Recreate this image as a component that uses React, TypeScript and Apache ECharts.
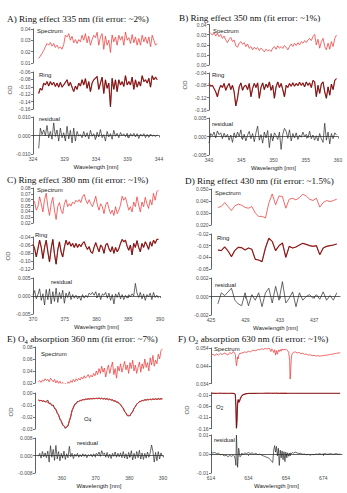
import React, { useEffect, useRef } from 'react';
import * as echarts from 'echarts';

// ---------------- DATA ----------------
// Panel A: Ring effect 335 nm
const A_X_TICKS = [324, 329, 334, 339, 344];
const A_SPEC_TICKS = [0.01, 0.02, 0.03, 0.04];
const A_RING_TICKS = [-0.16, -0.14, -0.12, -0.1, -0.08, -0.06];
const A_RES_TICKS = [-0.01, 0, 0.01];
const A_WL_START = 324.9, A_WL_STEP = 0.265;
const A_SPECTRUM = [0.0140, 0.0161, 0.0185, 0.0210, 0.0243, 0.0272, 0.0257, 0.0281, 0.0249, 0.0272,
  0.0237, 0.0257, 0.0228, 0.0243, 0.0222, 0.0263, 0.0345, 0.0330, 0.0359, 0.0301,
  0.0336, 0.0278, 0.0307, 0.0272, 0.0307, 0.0286, 0.0345, 0.0301, 0.0359, 0.0278,
  0.0336, 0.0257, 0.0307, 0.0345, 0.0324, 0.0371, 0.0257, 0.0330, 0.0359, 0.0220,
  0.0336, 0.0257, 0.0301, 0.0193, 0.0348, 0.0286, 0.0330, 0.0257, 0.0345, 0.0301,
  0.0336, 0.0257, 0.0374, 0.0301, 0.0324, 0.0272, 0.0351, 0.0278, 0.0330, 0.0257,
  0.0316, 0.0257, 0.0345, 0.0286, 0.0330, 0.0272, 0.0330, 0.0243, 0.0345, 0.0301,
  0.0257, 0.0272];
const A_RING = [-0.118, -0.104, -0.109, -0.090, -0.095, -0.086, -0.098, -0.086, -0.095, -0.088,
  -0.099, -0.090, -0.101, -0.088, -0.101, -0.095, -0.088, -0.081, -0.098, -0.088,
  -0.101, -0.113, -0.098, -0.107, -0.090, -0.098, -0.081, -0.095, -0.078, -0.104,
  -0.086, -0.113, -0.090, -0.081, -0.077, -0.072, -0.107, -0.090, -0.074, -0.118,
  -0.081, -0.104, -0.090, -0.154, -0.077, -0.107, -0.081, -0.113, -0.081, -0.095,
  -0.086, -0.099, -0.070, -0.095, -0.086, -0.095, -0.074, -0.107, -0.081, -0.101,
  -0.086, -0.098, -0.070, -0.086, -0.081, -0.090, -0.077, -0.101, -0.070, -0.081,
  -0.074, -0.081];
const A_RESIDUAL = [-0.0070, 0.0040, 0.0005, 0.0030, -0.0002, 0.0054, -0.0012, 0.0022, -0.0020, 0.0068,
  -0.0005, 0.0030, -0.0030, 0.0040, -0.0012, 0.0015, -0.0030, 0.0050, -0.0018, 0.0028,
  -0.0040, 0.0040, -0.0030, 0.0022, -0.0003, 0.0005, -0.0012, 0.0022, -0.0008, 0.0015,
  -0.0018, 0.0028, -0.0004, 0.0010, -0.0022, 0.0018, -0.0008, 0.0032, -0.0012, 0.0005,
  -0.0030, 0.0022, -0.0008, 0.0010, -0.0020, 0.0028, -0.0004, 0.0012, -0.0012, 0.0016,
  0.0000, 0.0009, -0.0006, 0.0012, -0.0014, 0.0010, -0.0004, 0.0012, -0.0008, 0.0010,
  -0.0016, 0.0008, -0.0004, 0.0010, -0.0012, 0.0006, -0.0010, 0.0008, -0.0004, 0.0002,
  -0.0006, 0.0004];

// Panel B: Ring effect 350 nm
const B_X_TICKS = [340, 345, 350, 355, 360];
const B_SPEC_TICKS = [0, 0.01, 0.02, 0.03, 0.04];
const B_RING_TICKS = [-0.16, -0.12, -0.08, -0.04];
const B_RES_TICKS = [-0.005, 0, 0.005];
const B_WL_START = 340.0, B_WL_STEP = 0.26;
const B_SPECTRUM = [0.0329, 0.0312, 0.0296, 0.0320, 0.0286, 0.0312, 0.0280, 0.0302, 0.0263, 0.0286,
  0.0247, 0.0221, 0.0254, 0.0273, 0.0231, 0.0247, 0.0189, 0.0176, 0.0215, 0.0231,
  0.0205, 0.0221, 0.0182, 0.0208, 0.0166, 0.0182, 0.0150, 0.0176, 0.0156, 0.0172,
  0.0143, 0.0166, 0.0150, 0.0130, 0.0156, 0.0140, 0.0150, 0.0133, 0.0166, 0.0182,
  0.0156, 0.0189, 0.0166, 0.0182, 0.0163, 0.0192, 0.0176, 0.0150, 0.0182, 0.0208,
  0.0182, 0.0215, 0.0192, 0.0221, 0.0198, 0.0231, 0.0215, 0.0241, 0.0221, 0.0247,
  0.0263, 0.0241, 0.0280, 0.0302, 0.0198, 0.0254, 0.0166, 0.0231, 0.0263, 0.0182,
  0.0150, 0.0215, 0.0156, 0.0231, 0.0182, 0.0263, 0.0296];
const B_RING = [-0.074, -0.083, -0.080, -0.090, -0.101, -0.117, -0.094, -0.080, -0.087, -0.074,
  -0.096, -0.083, -0.074, -0.094, -0.080, -0.101, -0.147, -0.122, -0.085, -0.072,
  -0.096, -0.083, -0.080, -0.094, -0.074, -0.117, -0.090, -0.074, -0.087, -0.072,
  -0.122, -0.087, -0.072, -0.094, -0.076, -0.087, -0.069, -0.096, -0.080, -0.122,
  -0.085, -0.069, -0.087, -0.074, -0.094, -0.117, -0.080, -0.087, -0.074, -0.083,
  -0.072, -0.083, -0.074, -0.081, -0.070, -0.080, -0.072, -0.085, -0.069, -0.080,
  -0.072, -0.087, -0.064, -0.069, -0.117, -0.080, -0.106, -0.076, -0.069, -0.101,
  -0.122, -0.085, -0.112, -0.076, -0.094, -0.064, -0.058];
const B_RESIDUAL = [-0.0018, 0.0008, 0.0002, 0.0012, -0.0004, 0.0015, 0.0005, 0.0010, -0.0006, 0.0009,
  -0.0002, 0.0006, -0.0010, 0.0004, -0.0016, 0.0010, -0.0004, 0.0012, 0.0000, 0.0018,
  -0.0008, 0.0006, -0.0012, 0.0004, 0.0014, -0.0006, 0.0008, -0.0014, 0.0010, 0.0028,
  -0.0010, 0.0005, -0.0018, 0.0012, -0.0004, 0.0016, -0.0030, 0.0008, -0.0012, 0.0010,
  0.0002, -0.0008, 0.0012, -0.0035, 0.0006, 0.0022, 0.0014, -0.0005, 0.0018, -0.0012,
  0.0008, -0.0004, 0.0010, -0.0008, 0.0004, -0.0002, 0.0012, 0.0000, 0.0006, -0.0004,
  0.0014, -0.0006, 0.0004, -0.0010, 0.0002, -0.0012, 0.0008, -0.0006, -0.0016, 0.0036,
  -0.0010, 0.0012, -0.0020, 0.0008, -0.0006, 0.0010, 0.0004];

// Panel C: Ring effect 380 nm
const C_X_TICKS = [370, 375, 380, 385, 390];
const C_SPEC_TICKS = [0.02, 0.03, 0.04, 0.05, 0.06, 0.07, 0.08];
const C_RING_TICKS = [-0.12, -0.1, -0.08, -0.06, -0.04];
const C_RES_TICKS = [-0.005, 0, 0.005];
const C_WL_START = 370.0, C_WL_STEP = 0.26;
const C_SPECTRUM = [0.060, 0.056, 0.042, 0.048, 0.065, 0.053, 0.039, 0.060, 0.071, 0.048,
  0.033, 0.053, 0.064, 0.042, 0.026, 0.048, 0.055, 0.042, 0.036, 0.053,
  0.060, 0.048, 0.053, 0.049, 0.056, 0.053, 0.059, 0.056, 0.060, 0.055,
  0.065, 0.069, 0.059, 0.053, 0.060, 0.053, 0.048, 0.056, 0.066, 0.051,
  0.042, 0.053, 0.048, 0.036, 0.051, 0.056, 0.045, 0.036, 0.042, 0.033,
  0.048, 0.036, 0.042, 0.051, 0.066, 0.059, 0.064, 0.053, 0.042, 0.048,
  0.039, 0.056, 0.048, 0.065, 0.051, 0.039, 0.056, 0.048, 0.064, 0.053,
  0.045, 0.060, 0.051, 0.071, 0.059, 0.074, 0.076];
const C_RING = [-0.058, -0.069, -0.090, -0.069, -0.048, -0.066, -0.094, -0.066, -0.048, -0.077,
  -0.102, -0.069, -0.046, -0.082, -0.108, -0.073, -0.052, -0.077, -0.090, -0.066,
  -0.048, -0.060, -0.052, -0.063, -0.056, -0.066, -0.056, -0.066, -0.058, -0.064,
  -0.056, -0.052, -0.063, -0.071, -0.064, -0.077, -0.081, -0.066, -0.054, -0.066,
  -0.077, -0.060, -0.066, -0.081, -0.060, -0.056, -0.069, -0.077, -0.064, -0.081,
  -0.066, -0.077, -0.069, -0.056, -0.046, -0.052, -0.048, -0.063, -0.073, -0.060,
  -0.085, -0.056, -0.066, -0.049, -0.066, -0.077, -0.056, -0.066, -0.052, -0.060,
  -0.071, -0.052, -0.063, -0.048, -0.056, -0.046, -0.046];
const C_RESIDUAL = [0.0002, 0.0015, -0.0008, 0.0004, 0.0020, -0.0012, 0.0006, -0.0025, 0.0018, -0.0010,
  0.0020, -0.0022, 0.0012, -0.0015, 0.0022, -0.0018, 0.0010, -0.0008, 0.0016, -0.0020,
  0.0008, -0.0004, 0.0012, -0.0010, 0.0004, -0.0006, 0.0002, -0.0008, 0.0000, -0.0012,
  0.0004, -0.0006, 0.0002, -0.0004, 0.0008, 0.0004, 0.0010, 0.0002, 0.0012, -0.0004,
  0.0008, -0.0010, 0.0006, 0.0002, 0.0010, -0.0006, 0.0008, -0.0012, 0.0004, -0.0022,
  0.0006, -0.0004, 0.0010, -0.0008, 0.0004, -0.0010, 0.0002, -0.0006, 0.0004, -0.0002,
  0.0006, 0.0000, 0.0035, 0.0008, -0.0004, 0.0010, -0.0008, 0.0006, -0.0012, 0.0004,
  -0.0002, 0.0008, -0.0010, 0.0010, -0.0004, 0.0002, -0.0006];

// Panel D: Ring effect 430 nm
const D_X_TICKS = [425, 429, 433, 437];
const D_SPEC_TICKS = [0.02, 0.03, 0.04, 0.05];
const D_RING_TICKS = [-0.05, -0.04, -0.03, -0.02];
const D_RES_TICKS = [-0.002, 0, 0.002];
const D_WL_START = 425.8, D_WL_STEP = 0.395;
const D_SPECTRUM = [0.0346, 0.0354, 0.0387, 0.0354, 0.0321, 0.0360, 0.0374, 0.0365, 0.0346, 0.0340,
  0.0354, 0.0300, 0.0272, 0.0272, 0.0258, 0.0382, 0.0459, 0.0368, 0.0442, 0.0437,
  0.0340, 0.0415, 0.0423, 0.0409, 0.0428, 0.0456, 0.0442, 0.0415, 0.0404, 0.0423,
  0.0349, 0.0387, 0.0404, 0.0395, 0.0404, 0.0415];
const D_RING = [-0.0337, -0.0343, -0.0311, -0.0346, -0.0394, -0.0340, -0.0314, -0.0317, -0.0337, -0.0320,
  -0.0331, -0.0417, -0.0423, -0.0437, -0.0320, -0.0237, -0.0263, -0.0343, -0.0300, -0.0277,
  -0.0400, -0.0306, -0.0320, -0.0311, -0.0294, -0.0280, -0.0289, -0.0300, -0.0306, -0.0300,
  -0.0377, -0.0320, -0.0306, -0.0300, -0.0294, -0.0286];
const D_RESIDUAL = [-0.0008, 0.0004, 0.0001, 0.0005, 0.0009, -0.0004, -0.0008, -0.0010, 0.0004, -0.0010,
  0.0002, -0.0004, 0.0004, -0.0011, 0.0004, 0.0009, -0.0007, 0.0011, -0.0004, 0.0016,
  -0.0007, -0.0002, 0.0005, -0.0011, 0.0004, -0.0004, 0.0000, 0.0002, -0.0002, 0.0002,
  -0.0003, 0.0005, -0.0004, 0.0001, -0.0004, 0.0004];

// Panel E: O4 absorption 360 nm
const E_X_TICKS = [360, 370, 380, 390];
const E_SPEC_TICKS = [0.02, 0.04, 0.06, 0.08];
const E_O4_TICKS = [-0.03, -0.02, -0.01, 0];
const E_RES_TICKS = [-0.008, 0, 0.008];
const E_WL_START = 353.0, E_WL_STEP = 0.4;
const E_SPECTRUM = [0.022, 0.024, 0.021, 0.025, 0.023, 0.027, 0.024, 0.026, 0.022, 0.028,
  0.025, 0.022, 0.026, 0.020, 0.024, 0.019, 0.023, 0.018, 0.021, 0.017,
  0.020, 0.016, 0.022, 0.019, 0.024, 0.021, 0.026, 0.022, 0.027, 0.024,
  0.028, 0.025, 0.030, 0.027, 0.032, 0.028, 0.031, 0.034, 0.029, 0.033,
  0.030, 0.036, 0.032, 0.040, 0.034, 0.044, 0.036, 0.048, 0.038, 0.045,
  0.030, 0.042, 0.050, 0.036, 0.046, 0.055, 0.034, 0.044, 0.028, 0.048,
  0.040, 0.052, 0.038, 0.047, 0.056, 0.042, 0.050, 0.036, 0.054, 0.044,
  0.058, 0.040, 0.050, 0.036, 0.046, 0.055, 0.038, 0.052, 0.044, 0.060,
  0.046, 0.054, 0.040, 0.062, 0.050, 0.066, 0.048, 0.058, 0.052, 0.068,
  0.060, 0.074, 0.077];
const E_O4_FIT = [-0.0060, -0.0062, -0.0064, -0.0066, -0.0068, -0.0071, -0.0074, -0.0078, -0.0083, -0.0090,
  -0.0098, -0.0108, -0.0122, -0.0140, -0.0162, -0.0187, -0.0213, -0.0238, -0.0260, -0.0277,
  -0.0287, -0.0287, -0.0270, -0.0236, -0.0192, -0.0150, -0.0118, -0.0098, -0.0085, -0.0076,
  -0.0069, -0.0064, -0.0060, -0.0057, -0.0055, -0.0053, -0.0051, -0.0050, -0.0049, -0.0048,
  -0.0047, -0.0047, -0.0046, -0.0046, -0.0045, -0.0045, -0.0045, -0.0046, -0.0047, -0.0048,
  -0.0049, -0.0050, -0.0052, -0.0054, -0.0057, -0.0060, -0.0064, -0.0068, -0.0073, -0.0079,
  -0.0085, -0.0097, -0.0112, -0.0130, -0.0150, -0.0170, -0.0185, -0.0191, -0.0186, -0.0172,
  -0.0152, -0.0130, -0.0110, -0.0094, -0.0082, -0.0074, -0.0068, -0.0064, -0.0061, -0.0059,
  -0.0057, -0.0056, -0.0055, -0.0054, -0.0053, -0.0052, -0.0052, -0.0051, -0.0051, -0.0050,
  -0.0050, -0.0050, -0.0049];
const E_O4_MEASURED = [-0.0058, -0.0066, -0.0060, -0.0070, -0.0064, -0.0075, -0.0068, -0.0060, -0.0090, -0.0084,
  -0.0105, -0.0100, -0.0130, -0.0134, -0.0170, -0.0180, -0.0220, -0.0232, -0.0268, -0.0272,
  -0.0295, -0.0280, -0.0276, -0.0228, -0.0200, -0.0142, -0.0125, -0.0092, -0.0090, -0.0070,
  -0.0072, -0.0060, -0.0064, -0.0053, -0.0058, -0.0050, -0.0054, -0.0047, -0.0052, -0.0045,
  -0.0050, -0.0044, -0.0049, -0.0043, -0.0048, -0.0040, -0.0050, -0.0042, -0.0052, -0.0044,
  -0.0053, -0.0046, -0.0057, -0.0050, -0.0060, -0.0055, -0.0070, -0.0062, -0.0078, -0.0074,
  -0.0090, -0.0093, -0.0118, -0.0125, -0.0156, -0.0165, -0.0190, -0.0186, -0.0192, -0.0166,
  -0.0158, -0.0125, -0.0115, -0.0090, -0.0086, -0.0070, -0.0072, -0.0060, -0.0065, -0.0055,
  -0.0060, -0.0052, -0.0058, -0.0050, -0.0057, -0.0048, -0.0055, -0.0047, -0.0054, -0.0046,
  -0.0053, -0.0046, -0.0050];
const E_RESIDUAL = [-0.0004, 0.0010, -0.0012, 0.0018, -0.0006, 0.0012, -0.0010, 0.0020, -0.0030, 0.0045,
  -0.0008, 0.0028, -0.0022, 0.0046, -0.0015, 0.0018, -0.0024, 0.0010, -0.0012, 0.0020,
  -0.0018, 0.0008, -0.0010, 0.0042, -0.0006, 0.0010, -0.0014, 0.0006, -0.0004, 0.0010,
  -0.0008, 0.0004, -0.0006, 0.0008, -0.0004, 0.0006, -0.0010, 0.0004, -0.0002, 0.0006,
  -0.0006, 0.0008, -0.0004, 0.0010, 0.0002, 0.0016, -0.0004, 0.0022, 0.0004, 0.0012,
  -0.0008, 0.0014, -0.0010, 0.0006, -0.0014, 0.0010, -0.0004, 0.0016, -0.0008, 0.0010,
  -0.0006, 0.0012, -0.0010, 0.0018, -0.0012, 0.0008, -0.0016, 0.0014, -0.0008, 0.0022,
  -0.0020, 0.0010, -0.0014, 0.0018, -0.0010, 0.0024, -0.0016, 0.0012, -0.0018, 0.0010,
  -0.0012, 0.0016, -0.0008, 0.0012, 0.0048, 0.0020, -0.0030, 0.0014, -0.0024, 0.0018,
  -0.0016, 0.0012, -0.0004];

// Panel F: O2 absorption 630 nm
const F_X_TICKS = [614, 634, 654, 674];
const F_SPEC_TICKS = [0.034, 0.044, 0.054];
const F_O2_TICKS = [-0.16, -0.11, -0.06, -0.01];
const F_RES_TICKS = [-0.01, 0, 0.01];
const F_WAVELENGTH = [614, 615, 616, 617, 618, 619, 620, 621, 622, 623, 624, 625, 626,
  626.5, 627, 627.3, 627.6, 627.9, 628.2, 628.5, 628.8, 629.1, 629.5, 630, 630.5, 631, 632, 633,
  634, 635, 636, 637, 638, 639, 640, 641, 642, 643, 644, 645,
  645.5, 646, 646.5, 647, 647.5, 648, 648.5, 649, 649.5, 650, 650.5, 651, 651.5, 652, 652.5, 653, 653.5,
  654, 654.5, 655, 655.5, 656, 656.3, 656.6, 657, 657.5, 658,
  659, 660, 661, 662, 663, 664, 665, 666, 667, 668, 669, 670, 671, 672, 673, 674, 675, 676, 677, 678,
  679, 680, 681, 682, 683];
const F_SPECTRUM = [0.0495, 0.0505, 0.0498, 0.0506, 0.0500, 0.0510, 0.0502, 0.0512, 0.0508, 0.0500, 0.0514, 0.0508, 0.0520,
  0.0512, 0.0505, 0.0470, 0.0440, 0.0460, 0.0490, 0.0478, 0.0500, 0.0505, 0.0512, 0.0508, 0.0515, 0.0512, 0.0518, 0.0515,
  0.0522, 0.0518, 0.0525, 0.0528, 0.0524, 0.0532, 0.0530, 0.0536, 0.0532, 0.0538, 0.0534, 0.0540,
  0.0532, 0.0520, 0.0535, 0.0528, 0.0515, 0.0530, 0.0500, 0.0525, 0.0505, 0.0528, 0.0520, 0.0532, 0.0522, 0.0535, 0.0528, 0.0533, 0.0530,
  0.0534, 0.0528, 0.0525, 0.0515, 0.0470, 0.0365, 0.0420, 0.0495, 0.0510, 0.0515,
  0.0518, 0.0512, 0.0515, 0.0508, 0.0510, 0.0504, 0.0506, 0.0500, 0.0502, 0.0497, 0.0499, 0.0495, 0.0497, 0.0494, 0.0496, 0.0497,
  0.0499, 0.0500, 0.0502, 0.0504, 0.0506, 0.0508, 0.0510, 0.0512, 0.0513];
const F_O2 = [-0.0020, -0.0018, -0.0022, -0.0019, -0.0021, -0.0018, -0.0020, -0.0022, -0.0019, -0.0021, -0.0020, -0.0022, -0.0025,
  -0.0030, -0.0080, -0.0600, -0.1580, -0.1200, -0.0500, -0.0300, -0.0420, -0.0400, -0.0300, -0.0200, -0.0130, -0.0090, -0.0060, -0.0040,
  -0.0030, -0.0028, -0.0025, -0.0024, -0.0022, -0.0021, -0.0020, -0.0020, -0.0019, -0.0018, -0.0018, -0.0017,
  -0.0018, -0.0020, -0.0016, -0.0022, -0.0014, -0.0010, -0.0020, -0.0012, -0.0024, -0.0010, -0.0030, -0.0012, -0.0022, -0.0014, -0.0026, -0.0016, -0.0024,
  -0.0018, -0.0022, -0.0019, -0.0020, -0.0020, -0.0021, -0.0020, -0.0020, -0.0019, -0.0020,
  -0.0020, -0.0019, -0.0020, -0.0021, -0.0020, -0.0019, -0.0020, -0.0020, -0.0021, -0.0020, -0.0019, -0.0020, -0.0020, -0.0021, -0.0020, -0.0019,
  -0.0020, -0.0020, -0.0021, -0.0020, -0.0019, -0.0020, -0.0020, -0.0021, -0.0020];
const F_RESIDUAL = [0.0010, 0.0005, 0.0008, 0.0002, 0.0004, -0.0004, -0.0002, -0.0010, -0.0006, -0.0014, -0.0008, -0.0012, -0.0006,
  -0.0010, -0.0030, -0.0060, 0.0100, 0.0020, -0.0070, -0.0020, 0.0030, 0.0010, -0.0015, -0.0010, 0.0005, -0.0004, 0.0006, 0.0002,
  0.0008, 0.0002, 0.0006, -0.0002, 0.0004, -0.0004, 0.0000, -0.0006, -0.0010, -0.0014, -0.0018, -0.0022,
  -0.0028, -0.0034, -0.0040, -0.0044, 0.0020, 0.0044, 0.0010, 0.0040, -0.0010, 0.0030, -0.0060, 0.0020, -0.0020, 0.0016, -0.0030, 0.0012, -0.0040,
  0.0010, -0.0020, 0.0006, -0.0012, 0.0004, -0.0010, 0.0006, 0.0002, 0.0008, 0.0004,
  0.0010, 0.0006, 0.0002, 0.0004, -0.0002, 0.0000, -0.0004, -0.0002, -0.0006, -0.0002, -0.0004, 0.0000, -0.0002, 0.0002, -0.0002, 0.0000,
  0.0002, -0.0002, 0.0000, 0.0002, -0.0002, 0.0000, 0.0002, -0.0002, 0.0000];

// ---------------- LAYOUT / STYLE ----------------
const RED = '#ef4444';
const DARK = '#3a0c0c';
const RESID = '#2a2a2a';
const AXIS = '#3a3a3a';
const LABEL = '#4a4a4a';
const SANS = 'Liberation Sans, Arial, sans-serif';
const SERIF = 'Liberation Serif, Times New Roman, serif';

const wlGrid = (start: number, step: number, n: number) =>
  Array.from({ length: n }, (_, i) => Math.round((start + i * step) * 1000) / 1000);

type Line = { d: number[]; c: string; w: number };
type Sub = { top: number; bottom: number; min: number; max: number; ticks: number[]; dec: number; lines: Line[] };
type Panel = {
  left: number; right: number; xMin: number; xMax: number; xTicks: number[]; wl: number[];
  subs: Sub[];
};

const ringLines = (d: number[]): Line[] => [
  { d, c: '#d83a3a', w: 1.2 },
  { d, c: DARK, w: 0.6 },
];

const PANELS: Panel[] = [
  {
    left: 33, right: 159, xMin: 324, xMax: 344, xTicks: A_X_TICKS, wl: wlGrid(A_WL_START, A_WL_STEP, A_SPECTRUM.length),
    subs: [
      { top: 29, bottom: 63, min: 0.01, max: 0.04, ticks: A_SPEC_TICKS, dec: 2, lines: [{ d: A_SPECTRUM, c: RED, w: 0.8 }] },
      { top: 72, bottom: 109, min: -0.16, max: -0.06, ticks: A_RING_TICKS, dec: 2, lines: ringLines(A_RING) },
      { top: 117, bottom: 154, min: -0.01, max: 0.01, ticks: A_RES_TICKS, dec: 3, lines: [{ d: A_RESIDUAL, c: RESID, w: 0.7 }] },
    ],
  },
  {
    left: 209, right: 338, xMin: 340, xMax: 360, xTicks: B_X_TICKS, wl: wlGrid(B_WL_START, B_WL_STEP, B_SPECTRUM.length),
    subs: [
      { top: 24.5, bottom: 65, min: 0, max: 0.04, ticks: B_SPEC_TICKS, dec: 2, lines: [{ d: B_SPECTRUM, c: RED, w: 0.8 }] },
      { top: 73, bottom: 110, min: -0.16, max: -0.04, ticks: B_RING_TICKS, dec: 2, lines: ringLines(B_RING) },
      { top: 118, bottom: 155, min: -0.005, max: 0.005, ticks: B_RES_TICKS, dec: 3, lines: [{ d: B_RESIDUAL, c: RESID, w: 0.7 }] },
    ],
  },
  {
    left: 33, right: 160, xMin: 370, xMax: 390, xTicks: C_X_TICKS, wl: wlGrid(C_WL_START, C_WL_STEP, C_SPECTRUM.length),
    subs: [
      { top: 188, bottom: 223, min: 0.02, max: 0.08, ticks: C_SPEC_TICKS, dec: 2, lines: [{ d: C_SPECTRUM, c: RED, w: 0.8 }] },
      { top: 237, bottom: 269, min: -0.12, max: -0.04, ticks: C_RING_TICKS, dec: 2, lines: ringLines(C_RING) },
      { top: 278, bottom: 314, min: -0.005, max: 0.005, ticks: C_RES_TICKS, dec: 3, lines: [{ d: C_RESIDUAL, c: RESID, w: 0.7 }] },
    ],
  },
  {
    left: 211, right: 340, xMin: 425, xMax: 440, xTicks: D_X_TICKS, wl: wlGrid(D_WL_START, D_WL_STEP, D_SPECTRUM.length),
    subs: [
      { top: 189, bottom: 225, min: 0.02, max: 0.05, ticks: D_SPEC_TICKS, dec: 3, lines: [{ d: D_SPECTRUM, c: RED, w: 0.8 }] },
      { top: 234, bottom: 269, min: -0.05, max: -0.02, ticks: D_RING_TICKS, dec: 2, lines: ringLines(D_RING) },
      { top: 278, bottom: 315, min: -0.002, max: 0.002, ticks: D_RES_TICKS, dec: 3, lines: [{ d: D_RESIDUAL, c: RESID, w: 0.7 }] },
    ],
  },
  {
    left: 35, right: 163, xMin: 352, xMax: 390, xTicks: E_X_TICKS, wl: wlGrid(E_WL_START, E_WL_STEP, E_SPECTRUM.length),
    subs: [
      { top: 347, bottom: 383, min: 0.02, max: 0.08, ticks: E_SPEC_TICKS, dec: 2, lines: [{ d: E_SPECTRUM, c: RED, w: 0.8 }] },
      { top: 393, bottom: 429, min: -0.03, max: 0, ticks: E_O4_TICKS, dec: 2, lines: [{ d: E_O4_MEASURED, c: '#1a1a1a', w: 0.8 }, { d: E_O4_FIT, c: '#e83030', w: 1.0 }] },
      { top: 438, bottom: 473, min: -0.008, max: 0.008, ticks: E_RES_TICKS, dec: 3, lines: [{ d: E_RESIDUAL, c: RESID, w: 0.7 }] },
    ],
  },
  {
    left: 211, right: 342, xMin: 614, xMax: 684, xTicks: F_X_TICKS, wl: F_WAVELENGTH,
    subs: [
      { top: 348, bottom: 383.5, min: 0.034, max: 0.054, ticks: F_SPEC_TICKS, dec: 3, lines: [{ d: F_SPECTRUM, c: RED, w: 0.8 }] },
      { top: 392.8, bottom: 428.7, min: -0.16, max: 0, ticks: F_O2_TICKS, dec: 2, lines: ringLines(F_O2) },
      { top: 435, bottom: 473, min: -0.01, max: 0.01, ticks: F_RES_TICKS, dec: 2, lines: [{ d: F_RESIDUAL, c: RESID, w: 0.7 }] },
    ],
  },
];

const TITLES = [
  { x: 7, y: 18.5, parts: [['t', 'A) Ring effect 335 nm (fit error: ~2%)']] },
  { x: 179, y: 18, parts: [['t', 'B) Ring effect 350 nm (fit error: ~1%)']] },
  { x: 7, y: 179.5, parts: [['t', 'C) Ring effect 380 nm (fit error: ~1%)']] },
  { x: 185, y: 180.5, parts: [['t', 'D) Ring effect 430 nm (fit error: ~1.5%)']] },
  { x: 7, y: 338.5, parts: [['t', 'E) O'], ['s', '4'], ['t', ' absorption 360 nm (fit error: ~7%)']] },
  { x: 178, y: 338.5, parts: [['t', 'F) O'], ['s', '2'], ['t', ' absorption 630 nm (fit error: ~1%)']] },
];

const SUB_LABELS = [
  { x: 37, y: 31, parts: [['l', 'Spectrum']] }, { x: 39, y: 75, parts: [['l', 'Ring']] }, { x: 39, y: 118.5, parts: [['l', 'residual']] },
  { x: 213, y: 30.5, parts: [['l', 'Spectrum']] }, { x: 212, y: 75, parts: [['l', 'Ring']] }, { x: 212, y: 124, parts: [['l', 'residual']] },
  { x: 37, y: 190, parts: [['l', 'Spectrum']] }, { x: 35, y: 235, parts: [['l', 'Ring']] }, { x: 51, y: 282, parts: [['l', 'residual']] },
  { x: 215, y: 193, parts: [['l', 'Spectrum']] }, { x: 217, y: 238, parts: [['l', 'Ring']] }, { x: 215, y: 285, parts: [['l', 'residual']] },
  { x: 41, y: 354, parts: [['l', 'Spectrum']] }, { x: 84, y: 419, parts: [['l', 'O'], ['ls', '4']] }, { x: 77, y: 443, parts: [['l', 'residual']] },
  { x: 214, y: 349, parts: [['l', 'Spectrum']] }, { x: 216, y: 407, parts: [['l', 'O'], ['ls', '2']] }, { x: 214, y: 440, parts: [['l', 'residual']] },
];

const OD_LABELS = [
  { x: 10, y: 90 }, { x: 185, y: 85 }, { x: 8, y: 256 }, { x: 11, y: 412 }, { x: 187, y: 410 },
];

const RICH = {
  t: { fontFamily: SERIF, fontSize: 9.2, fill: '#111', lineHeight: 12, verticalAlign: 'middle' },
  s: { fontFamily: SERIF, fontSize: 6.5, fill: '#111', lineHeight: 6.5, verticalAlign: 'bottom' },
  l: { fontFamily: SANS, fontSize: 6, fill: '#222', lineHeight: 8, verticalAlign: 'middle' },
  ls: { fontFamily: SANS, fontSize: 4.5, fill: '#222', lineHeight: 4.5, verticalAlign: 'bottom' },
};

function buildOption() {
  const grid: any[] = [];
  const xAxis: any[] = [];
  const yAxis: any[] = [];
  const series: any[] = [];
  PANELS.forEach((p) => {
    p.subs.forEach((s, si) => {
      const idx = grid.length;
      const isBottom = si === p.subs.length - 1;
      grid.push({ left: p.left, top: s.top, width: p.right - p.left, height: s.bottom - s.top, containLabel: false });
      xAxis.push({
        type: 'value', gridIndex: idx, min: p.xMin, max: p.xMax, show: isBottom,
        name: isBottom ? 'Wavelength [nm]' : '', nameLocation: 'middle', nameGap: 10,
        nameTextStyle: { fontFamily: SANS, fontSize: 6, color: '#222' },
        axisLine: { show: true, lineStyle: { color: AXIS, width: 0.8 } },
        axisTick: { show: true, length: 2, lineStyle: { color: AXIS, width: 0.7 }, customValues: p.xTicks },
        axisLabel: { fontFamily: SANS, fontSize: 5, color: LABEL, margin: 2.5, showMinLabel: true, showMaxLabel: true, customValues: p.xTicks, formatter: (v: number) => String(v) },
        splitLine: { show: false },
      });
      yAxis.push({
        type: 'value', gridIndex: idx, min: s.min, max: s.max,
        axisLine: { show: true, lineStyle: { color: AXIS, width: 0.8 } },
        axisTick: { show: true, length: 2, lineStyle: { color: AXIS, width: 0.7 }, customValues: s.ticks },
        axisLabel: { fontFamily: SANS, fontSize: 5, color: LABEL, margin: 2.5, showMinLabel: true, showMaxLabel: true, customValues: s.ticks, formatter: (v: number) => v.toFixed(s.dec) },
        splitLine: { show: false },
      });
      s.lines.forEach((ln) => {
        series.push({
          type: 'line', xAxisIndex: idx, yAxisIndex: idx, showSymbol: false, symbol: 'none',
          data: ln.d.map((v, i) => [p.wl[i], v]).filter((pt) => pt[0] !== undefined),
          lineStyle: { color: ln.c, width: ln.w }, itemStyle: { color: ln.c }, clip: true, silent: true,
        });
      });
    });
  });

  const toRich = (parts: string[][]) => parts.map(([k, t]) => `{${k}|${t}}`).join('');
  const graphic: any[] = [];
  TITLES.forEach((t) => graphic.push({ type: 'text', x: t.x, y: t.y, style: { text: toRich(t.parts), rich: RICH, align: 'left', verticalAlign: 'middle' } }));
  SUB_LABELS.forEach((t) => graphic.push({ type: 'text', x: t.x, y: t.y, style: { text: toRich(t.parts), rich: RICH, align: 'left', verticalAlign: 'middle' } }));
  OD_LABELS.forEach((t) => graphic.push({ type: 'text', x: t.x, y: t.y, rotation: Math.PI / 2, style: { text: 'OD', fontFamily: SANS, fontSize: 6, fill: LABEL, align: 'center', verticalAlign: 'middle' } }));

  return { animation: false, backgroundColor: '#fff', grid, xAxis, yAxis, series, graphic };
}

export default function App() {
  const ref = useRef<HTMLDivElement>(null);
  useEffect(() => {
    if (!ref.current) return;
    const chart = echarts.init(ref.current, null, { renderer: 'svg' });
    chart.setOption(buildOption() as any);
    return () => chart.dispose();
  }, []);
  return <div ref={ref} style={{ position: 'absolute', left: 0, top: 0, width: 347, height: 493 }} />;
}
